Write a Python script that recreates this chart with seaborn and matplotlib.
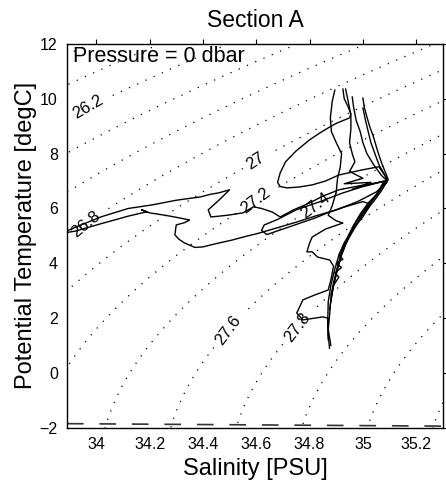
import numpy as np
import pandas as pd
import matplotlib
matplotlib.use("Agg")
import matplotlib.pyplot as plt
import seaborn as sns

# ---------------- data ----------------
title = "Section A"
pressure_text = "Pressure = 0 dbar"
xlabel = "Salinity [PSU]"
ylabel = "Potential Temperature [degC]"

x_ticks = [34.0, 34.2, 34.4, 34.6, 34.8, 35.0, 35.2]
x_tick_labels = ["34", "34.2", "34.4", "34.6", "34.8", "35", "35.2"]
y_ticks = [-2, 0, 2, 4, 6, 8, 10, 12]

sigma_levels = [25.4, 25.6, 25.8, 26.0, 26.2, 26.4, 26.6, 26.8, 27.0, 27.2,
                27.4, 27.6, 27.8, 28.0, 28.2, 28.4, 28.6]
label_positions = [(33.97, 9.67), (33.96, 5.44), (34.595, 7.77), (34.595, 6.31),
                   (34.81, 6.2), (34.49, 1.57), (34.75, 1.68)]

freeze_S = [33.89, 35.30]
freeze_T = [-1.84, -1.93]

p1_S = [34.895, 34.885, 34.878, 34.882, 34.90, 34.92, 34.915, 34.905, 34.90, 34.885,
        34.87, 34.90, 34.925, 34.86, 34.81, 34.80, 34.79, 34.81, 34.83, 34.876,
        34.89, 34.88, 34.87, 34.82, 34.775, 34.752, 34.775, 34.85, 34.87, 34.87, 34.875]
p1_T = [10.32, 9.9, 9.3, 8.8, 8.4, 8.0, 7.5, 7.1, 6.6, 6.1,
        5.75, 5.55, 5.47, 5.25, 4.96, 4.74, 4.42, 4.42, 4.23, 4.12,
        3.9, 3.4, 3.03, 2.85, 2.67, 2.19, 1.94, 2.05, 2.0, 1.4, 0.9]

p2_S = [34.925, 34.93, 34.945, 34.955, 34.95, 34.90, 34.876, 34.84, 34.80, 34.75,
        34.71, 34.69, 34.68, 34.69, 34.715, 34.76, 34.81, 34.86, 34.91, 35.0,
        35.06, 35.09, 35.06, 35.02, 34.99, 34.96, 34.94, 34.92, 34.905, 34.89, 34.88]
p2_T = [10.36, 10.0, 9.7, 9.45, 9.3, 9.1, 8.97, 8.76, 8.5, 8.1,
        7.7, 7.3, 6.95, 6.8, 6.75, 6.78, 6.86, 7.0, 7.22, 7.41,
        7.52, 7.1, 6.6, 6.2, 5.8, 5.3, 4.8, 4.3, 3.8, 3.2, 2.6]

p3_S = [34.96, 34.965, 34.975, 34.99, 35.0, 35.015, 35.04, 35.07, 35.09, 35.0,
        34.92, 34.84, 34.75, 34.68, 34.63, 34.62, 34.64, 34.70, 34.76, 34.82,
        34.87, 34.93, 35.0, 35.03, 35.0, 34.96, 34.93, 34.91, 34.895, 34.88,
        34.87, 34.868, 34.87]
p3_T = [10.07, 9.7, 9.2, 8.8, 8.4, 8.0, 7.6, 7.2, 7.02, 6.8,
        6.55, 6.25, 5.95, 5.6, 5.4, 5.2, 5.05, 5.25, 5.45, 5.65,
        5.85, 6.05, 6.25, 6.15, 5.7, 5.2, 4.75, 4.3, 3.8, 3.2,
        2.6, 1.8, 1.2]

p4_S = [35.0, 35.01, 35.02, 35.03, 35.045, 35.06, 35.08, 35.09, 35.06, 35.03,
        35.0, 34.97, 34.94, 34.92, 34.905, 34.89, 34.88]
p4_T = [9.67, 9.2, 8.8, 8.4, 8.0, 7.6, 7.25, 7.05, 6.6, 6.2,
        5.8, 5.3, 4.8, 4.4, 3.9, 3.3, 2.8]

p5_S = [35.0, 35.005, 35.015, 35.025, 35.04, 35.055, 35.07, 35.085, 35.095, 35.07,
        35.04, 35.0, 34.96, 34.935, 34.915, 34.90, 34.885, 34.875]
p5_T = [10.03, 9.7, 9.34, 9.0, 8.6, 8.1, 7.66, 7.3, 7.05, 6.65,
        6.25, 5.8, 5.2, 4.7, 4.2, 3.6, 3.0, 2.3]

p6_S = [34.935, 34.945, 34.955, 34.955, 34.95, 34.96, 34.97, 34.95, 35.0, 34.93,
        35.03, 34.96, 35.08, 35.05, 35.01, 34.98, 34.95, 34.93, 34.91, 34.925,
        34.90, 34.92, 34.895, 34.91, 34.89, 34.88, 34.875, 34.87, 34.88]
p6_T = [10.36, 9.9, 9.4, 8.9, 8.4, 8.0, 7.7, 7.35, 7.1, 6.9,
        6.95, 6.7, 7.0, 6.5, 6.0, 5.6, 5.1, 4.7, 4.3, 4.15,
        4.0, 3.85, 3.65, 3.5, 3.2, 2.7, 2.1, 1.6, 1.0]

p7_S = [35.09, 35.0, 34.91, 34.85, 34.80, 34.74, 34.69, 34.66, 34.62, 34.59,
        34.55, 34.49, 34.43, 34.42, 34.46, 34.50, 34.46, 34.43, 34.39, 34.30,
        34.21, 34.12, 34.02, 33.93, 33.87, 33.92, 34.02, 34.12, 34.19, 34.17,
        34.20, 34.26, 34.31, 34.35, 34.33, 34.30, 34.295, 34.31, 34.33, 34.37,
        34.40, 34.45, 34.51, 34.56, 34.61, 34.68, 34.75, 34.82, 34.90, 34.98,
        35.05, 35.09]
p7_T = [7.0, 6.85, 6.68, 6.45, 6.2, 5.95, 5.69, 5.87, 6.0, 6.06,
        5.84, 5.75, 5.69, 5.95, 6.3, 6.68, 6.57, 6.52, 6.42, 6.3,
        6.13, 6.0, 5.7, 5.35, 5.1, 5.17, 5.45, 5.72, 5.88, 5.95,
        5.84, 5.75, 5.66, 5.58, 5.48, 5.40, 5.04, 4.88, 4.75, 4.58,
        4.6, 4.72, 4.85, 4.98, 5.1, 5.3, 5.5, 5.72, 5.95, 6.25,
        6.6, 6.95]

profiles = {
    "p1": (p1_S, p1_T), "p2": (p2_S, p2_T), "p3": (p3_S, p3_T),
    "p4": (p4_S, p4_T), "p5": (p5_S, p5_T), "p6": (p6_S, p6_T),
    "p7": (p7_S, p7_T),
}

# ---------------- style ----------------
sns.set_theme(style="white")
plt.rcParams["font.family"] = ["Liberation Sans", "DejaVu Sans"]
plt.rcParams["axes.edgecolor"] = "black"
plt.rcParams["axes.linewidth"] = 1.0

fig = plt.figure(figsize=(4.46, 4.92), dpi=100)
ax = fig.add_axes([0.150, 0.130, 0.843, 0.781])


# density (sigma-0, UNESCO EOS-80 at p = 0) background field
def sigma0(S, T):
    rw = (999.842594 + 6.793952e-2 * T - 9.095290e-3 * T**2 + 1.001685e-4 * T**3
          - 1.120083e-6 * T**4 + 6.536332e-9 * T**5)
    A = 8.24493e-1 - 4.0899e-3 * T + 7.6438e-5 * T**2 - 8.2467e-7 * T**3 + 5.3875e-9 * T**4
    B = -5.72466e-3 + 1.0227e-4 * T - 1.6546e-6 * T**2
    C = 4.8314e-4
    return rw + A * S + B * S**1.5 + C * S**2 - 1000.0


sg, tg = np.meshgrid(np.linspace(33.7, 35.5, 300), np.linspace(-2.5, 12.5, 300))
cs = ax.contour(sg, tg, sigma0(sg, tg), levels=sigma_levels, colors="black",
                linewidths=0.9, linestyles=[(0, (1, 6.2))])
ax.clabel(cs, inline=True, fontsize=12, fmt=lambda v: f"{v:g}",
          manual=label_positions, inline_spacing=3)

# profiles
rows = []
for name, (S, T) in profiles.items():
    for i, (s, t) in enumerate(zip(S, T)):
        rows.append({"profile": name, "order": i, "S": s, "T": t})
df = pd.DataFrame(rows)
sns.lineplot(data=df, x="S", y="T", units="profile", estimator=None, sort=False,
             color="black", linewidth=1.0, ax=ax, legend=False)

# freezing line
sns.lineplot(x=freeze_S, y=freeze_T, color="#333333", linewidth=1.2, ax=ax,
             linestyle=(0, (10, 9.5)), legend=False)

ax.set_xlim(33.89, 35.30)
ax.set_ylim(-2, 12)
ax.set_xticks(x_ticks)
ax.set_xticklabels(x_tick_labels)
ax.set_yticks(y_ticks)
ax.tick_params(axis="both", which="both", direction="out", length=3.5, width=0.8,
               labelsize=11.5, colors="black", pad=3)
ax.tick_params(top=True, right=True)
for s in ax.spines.values():
    s.set_visible(True)
    s.set_color("black")

ax.set_xlabel(xlabel, fontsize=17, labelpad=4, color="black")
ax.set_ylabel(ylabel, fontsize=17, labelpad=2, color="black")
ax.set_title(title, fontsize=16.5, pad=12, color="black")
ax.text(0.016, 0.995, pressure_text, transform=ax.transAxes, ha="left", va="top",
        fontsize=15.5, color="black")

fig.savefig("out.png", dpi=100)
